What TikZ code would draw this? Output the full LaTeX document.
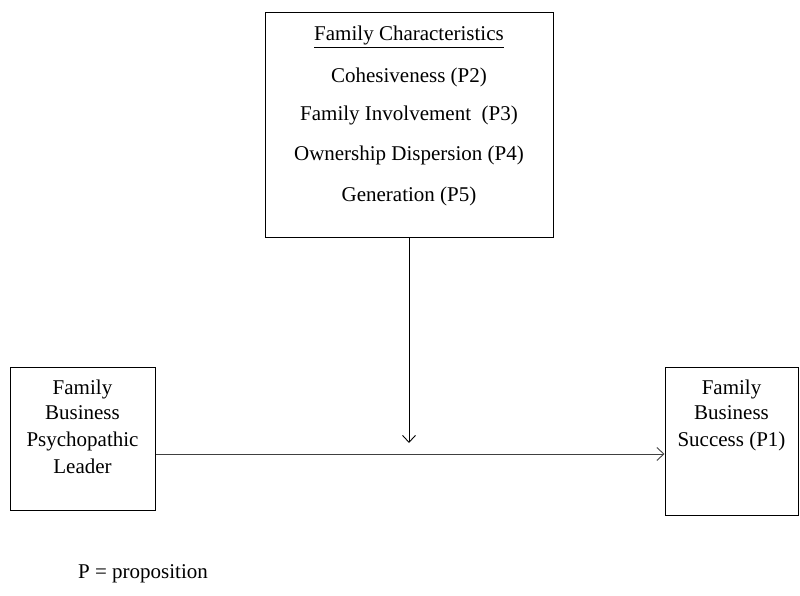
\documentclass[tikz,border=0pt]{standalone}
\usepackage{fontspec}
\setmainfont{Liberation Serif}
\usetikzlibrary{arrows.meta}
\tikzset{
  box/.style={draw=black, line width=1pt, inner sep=0pt},
  lbl/.style={anchor=base, inner sep=0pt, font=\fontsize{21}{26}\selectfont},
  conn/.style={draw=black!75, line width=1pt},
  tip/.style={-{Straight Barb[length=7pt,width=13pt,line width=0.9pt]}}
}
\begin{document}
\begin{tikzpicture}[x=1pt,y=-1pt]
\useasboundingbox (0,0) rectangle (800,596);
% boxes
\node[box, minimum width=288pt, minimum height=224pt] (fc) at (409,125) {};
\node[box, minimum width=145pt, minimum height=143pt] (lead) at (82.5,438.5) {};
\node[box, minimum width=133pt, minimum height=148pt] (succ) at (731.5,441) {};
% top box text
\node[lbl] (t0) at (409,41) {\underline{Family Characteristics}};
\node[lbl] (t1) at (409,83) {Cohesiveness (P2)};
\node[lbl] (t2) at (409,121) {Family Involvement\ \ (P3)};
\node[lbl] (t3) at (409,161) {Ownership Dispersion (P4)};
\node[lbl] (t4) at (409,202) {Generation (P5)};
% left box text
\node[lbl] (l1) at (82.5,394) {Family};
\node[lbl] (l2) at (82.5,419) {Business};
\node[lbl] (l3) at (82.5,446) {Psychopathic};
\node[lbl] (l4) at (82.5,473) {Leader};
% right box text
\node[lbl] (r1) at (731.5,394) {Family};
\node[lbl] (r2) at (731.5,419) {Business};
\node[lbl] (r3) at (731.5,446) {Success (P1)};
% legend
\node[lbl, anchor=base west] (leg) at (78,578) {P = proposition};
% connectors
\coordinate (mid) at (409,443);
\coordinate (hline) at (409,454);
\draw[conn, draw=black, tip] (fc.south) -- (mid);
\draw[conn, tip] (lead.east |- hline) -- (succ.west |- hline);
\end{tikzpicture}
\end{document}
